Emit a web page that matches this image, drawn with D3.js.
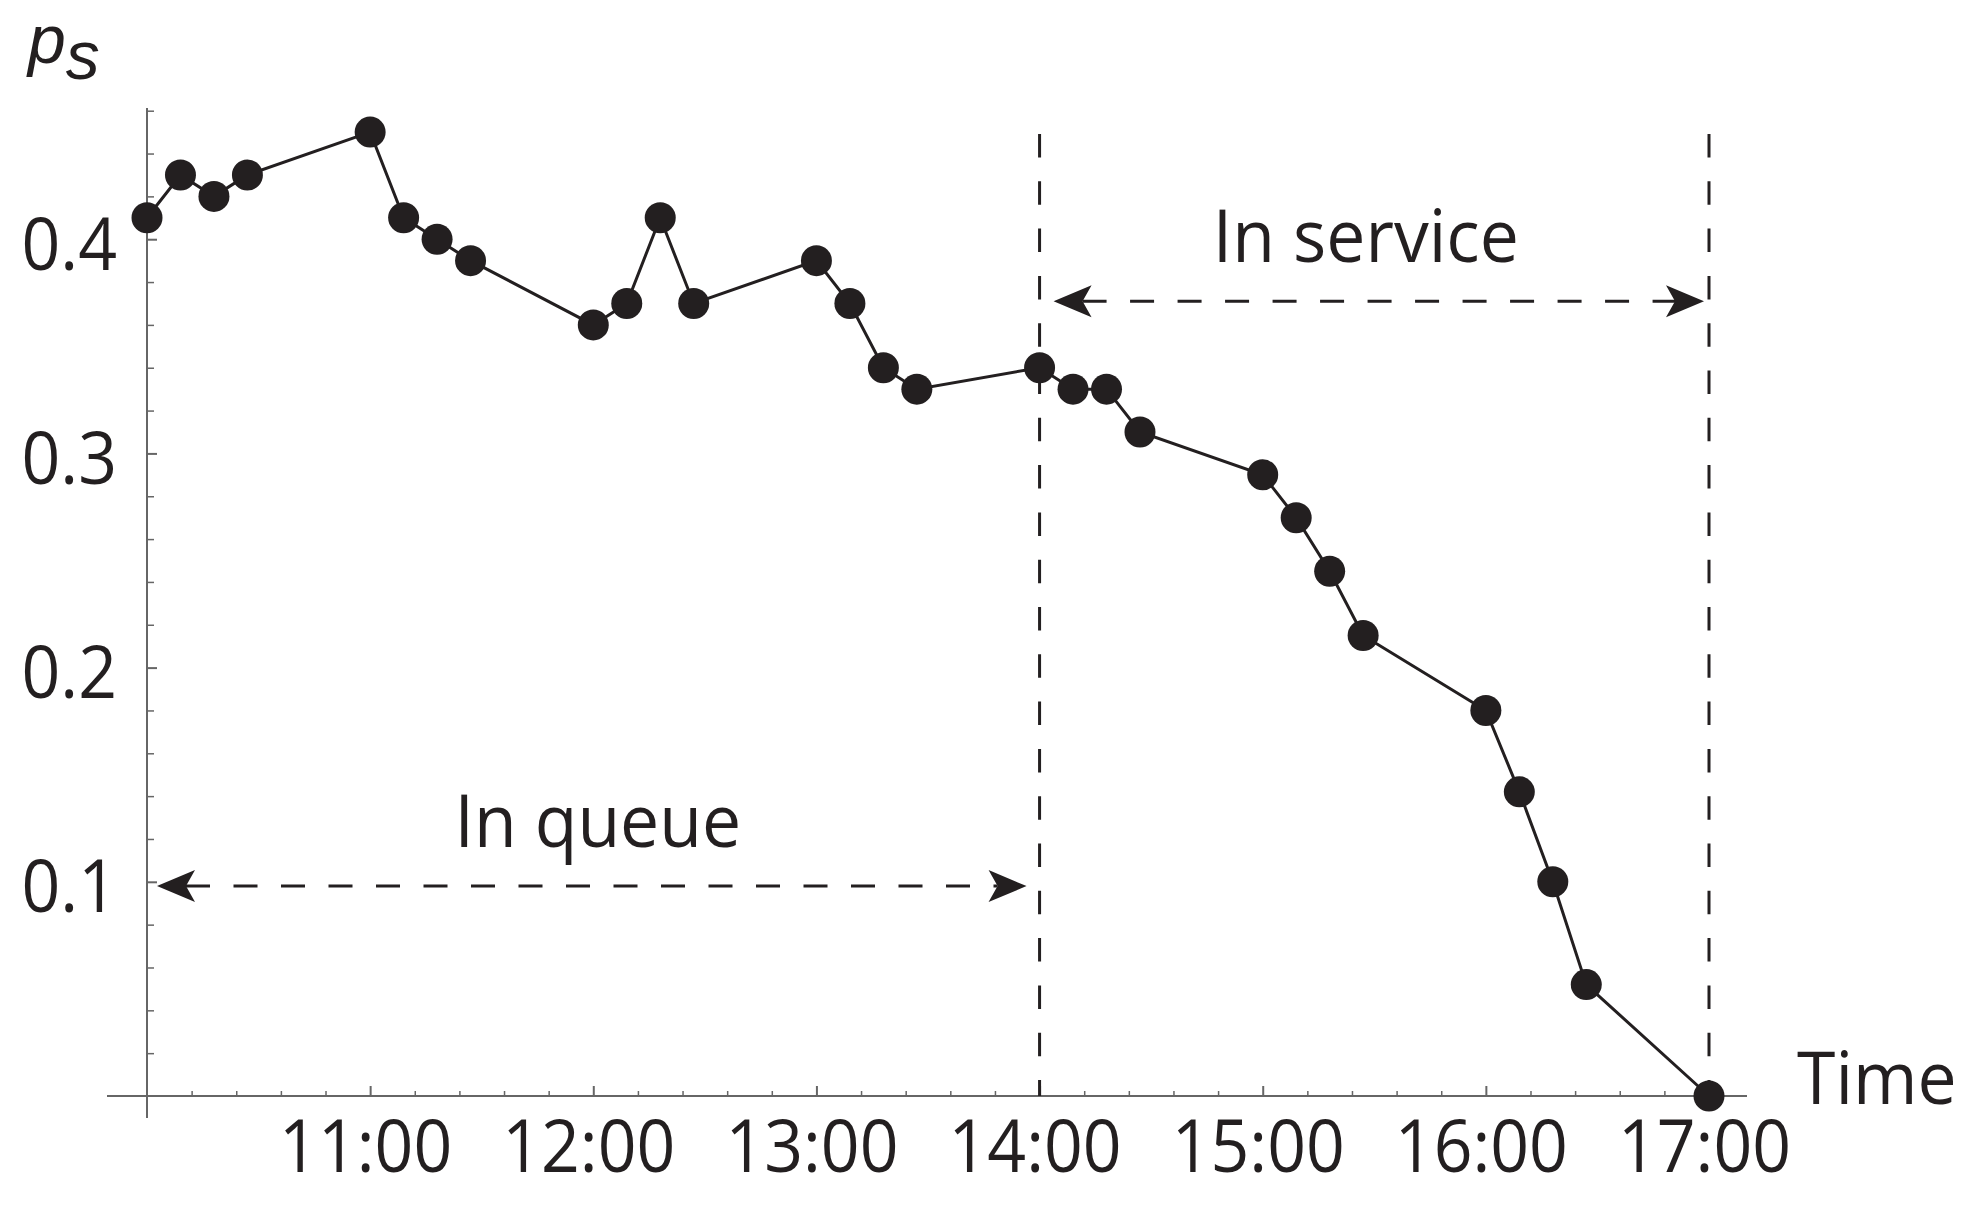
<!DOCTYPE html>
<html>
<head>
<meta charset="utf-8">
<script src="https://cdn.jsdelivr.net/npm/d3@7"></script>
<style>
  html, body { margin: 0; padding: 0; background: #fff; }
  svg text { font-family: "Open Sans", "Noto Sans", sans-serif; fill: #231f20; }
</style>
</head>
<body>
<svg id="chart" width="1982" height="1209"></svg>
<script>
// observation times (hh:mm) and the probability p_s at each of them
var times = ["10:00", "10:09", "10:18", "10:27", "11:00", "11:09", "11:18", "11:27",
  "12:00", "12:09", "12:18", "12:27", "13:00", "13:09", "13:18", "13:27",
  "14:00", "14:09", "14:18", "14:27", "15:00", "15:09", "15:18", "15:27",
  "16:00", "16:09", "16:18", "16:27", "17:00"];
var ps = [0.41, 0.43, 0.42, 0.43, 0.45, 0.41, 0.40, 0.39,
  0.36, 0.37, 0.41, 0.37, 0.39, 0.37, 0.34, 0.33,
  0.34, 0.33, 0.33, 0.31, 0.29, 0.27, 0.245, 0.215,
  0.18, 0.142, 0.10, 0.052, 0];

// tick labels
var xTickLabels = ["11:00", "12:00", "13:00", "14:00", "15:00", "16:00", "17:00"];
var yTickLabels = ["0.1", "0.2", "0.3", "0.4"];

// the two phases
var phases = [
  { label: "In queue", from: "10:00", to: "14:00", at: 0.098 },
  { label: "In service", from: "14:00", to: "17:00", at: 0.371 }
];
var phaseBounds = ["14:00", "17:00"];

function toHours(t) {
  var p = t.split(":");
  return +p[0] + +p[1] / 60;
}

var svg = d3.select("#chart");
var ink = "#231f20", axisGrey = "#666";
var numSqueeze = 0.93, wordSqueeze = 0.955; // original font is narrower than Open Sans

var x = d3.scaleLinear().domain([10, 17]).range([147, 1709]);
var y = d3.scaleLinear().domain([0, 0.46]).range([1096, 110.7]);

var data = times.map(function (t, i) { return { t: toHours(t), v: ps[i] }; });

// axes lines (extend past the origin like the original)
svg.append("line")
  .attr("x1", 107).attr("x2", 1747)
  .attr("y1", y(0)).attr("y2", y(0))
  .attr("stroke", axisGrey).attr("stroke-width", 2);
svg.append("line")
  .attr("x1", x(10)).attr("x2", x(10))
  .attr("y1", 108).attr("y2", 1118)
  .attr("stroke", axisGrey).attr("stroke-width", 2);

// x minor ticks every 12 minutes
var xMinor = d3.range(1, 35).map(function (i) { return 10 + i * 0.2; })
  .filter(function (h) { return Math.abs(h - Math.round(h)) > 1e-6; });
svg.append("g")
  .attr("transform", "translate(0," + y(0) + ")")
  .call(d3.axisBottom(x).tickValues(xMinor).tickSize(-5).tickFormat(""))
  .call(function (g) { g.select(".domain").remove(); })
  .selectAll("line").attr("stroke", axisGrey).attr("stroke-width", 1.5);

// x major ticks + labels
var xg = svg.append("g")
  .attr("transform", "translate(0," + y(0) + ")")
  .call(d3.axisBottom(x)
    .tickValues(xTickLabels.map(toHours))
    .tickSize(-10)
    .tickPadding(24)
    .tickFormat(function (d, i) { return xTickLabels[i]; }));
xg.select(".domain").remove();
xg.selectAll("line").attr("stroke", axisGrey).attr("stroke-width", 2);
xg.selectAll("text")
  .attr("font-size", 73).attr("fill", "#000")
  .attr("x", -5 / numSqueeze)
  .attr("transform", "scale(" + numSqueeze + ",1)");

// y minor ticks every 0.02
var yMinor = d3.range(1, 24).map(function (i) { return +(i * 0.02).toFixed(2); })
  .filter(function (v) { return Math.abs(v * 10 - Math.round(v * 10)) > 1e-6; });
svg.append("g")
  .attr("transform", "translate(" + x(10) + ",0)")
  .call(d3.axisLeft(y).tickValues(yMinor).tickSize(-7).tickFormat(""))
  .call(function (g) { g.select(".domain").remove(); })
  .selectAll("line").attr("stroke", axisGrey).attr("stroke-width", 1.5);

// y major ticks + labels
var yg = svg.append("g")
  .attr("transform", "translate(" + x(10) + ",0)")
  .call(d3.axisLeft(y)
    .tickValues(yTickLabels.map(Number))
    .tickSize(-10)
    .tickPadding(30)
    .tickFormat(function (d, i) { return yTickLabels[i]; }));
yg.select(".domain").remove();
yg.selectAll("line").attr("stroke", axisGrey).attr("stroke-width", 2);
yg.selectAll("text")
  .attr("font-size", 73).attr("fill", "#000").attr("dy", "0.41em")
  .attr("x", -30 / numSqueeze)
  .attr("transform", "scale(" + numSqueeze + ",1)");
svg.selectAll(".tick text").attr("font-family", null);

// vertical dashed phase boundaries
svg.append("g").selectAll("line")
  .data(phaseBounds)
  .join("line")
  .attr("x1", function (d) { return x(toHours(d)); })
  .attr("x2", function (d) { return x(toHours(d)); })
  .attr("y1", 134).attr("y2", y(0))
  .attr("stroke", ink).attr("stroke-width", 3)
  .attr("stroke-dasharray", "23.5 23.8");

// double arrows with labels
function arrowHead(tipX, tipY, dir) {
  // dir = +1 points right, -1 points left
  var b = -dir;
  return "M" + tipX + "," + tipY +
    "L" + (tipX + b * 38) + "," + (tipY - 16) +
    "L" + (tipX + b * 29) + "," + tipY +
    "L" + (tipX + b * 38) + "," + (tipY + 16) + "Z";
}
var ph = svg.append("g").selectAll("g").data(phases).join("g");
ph.each(function (d, i) {
  var g = d3.select(this);
  var x1 = x(toHours(d.from)) + (i === 0 ? 10 : 14);
  var x2 = x(toHours(d.to)) - (i === 0 ? 13 : 5);
  var yy = y(d.at);
  g.append("line")
    .attr("x1", x1 + 29).attr("x2", x2 - 29)
    .attr("y1", yy).attr("y2", yy)
    .attr("stroke", ink).attr("stroke-width", 3)
    .attr("stroke-dasharray", "24 23.5");
  g.append("path").attr("d", arrowHead(x1, yy, -1)).attr("fill", ink);
  g.append("path").attr("d", arrowHead(x2, yy, 1)).attr("fill", ink);
  g.append("text")
    .attr("transform", "translate(" + ((x1 + x2) / 2 + (i === 0 ? 6 : -13)) + "," + (yy - 39.5) + ") scale(" + wordSqueeze + ",1)")
    .attr("text-anchor", "middle")
    .attr("font-size", 73)
    .text(d.label);
});

// series line and points
svg.append("path")
  .datum(data)
  .attr("fill", "none")
  .attr("stroke", ink)
  .attr("stroke-width", 3)
  .attr("d", d3.line().x(function (d) { return x(d.t); }).y(function (d) { return y(d.v); }));

svg.append("g").selectAll("circle")
  .data(data)
  .join("circle")
  .attr("cx", function (d) { return x(d.t); })
  .attr("cy", function (d) { return y(d.v); })
  .attr("r", 15.5)
  .attr("fill", ink);

// axis titles
svg.append("text")
  .attr("transform", "translate(1797,1104) scale(" + wordSqueeze + ",1)")
  .attr("font-size", 73)
  .text("Time");

var yl = svg.append("text")
  .attr("x", 28).attr("y", 63)
  .attr("font-size", 68)
  .attr("font-style", "italic")
  .style("font-family", "'Liberation Sans', Arial, sans-serif");
yl.append("tspan").text("p");
yl.append("tspan").attr("dy", 16).text("s");
</script>
</body>
</html>
